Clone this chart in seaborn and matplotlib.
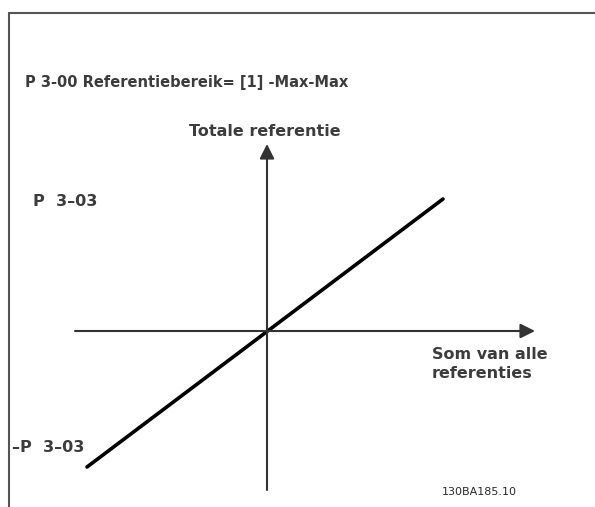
import numpy as np
import pandas as pd
import matplotlib
matplotlib.use('Agg')
import matplotlib.pyplot as plt
import seaborn as sns

sns.set_theme(style="white")
plt.rcParams['font.family'] = ['DejaVu Sans']

# referentielijn (origin = snijpunt van de assen)
line_x = [-180, 176]
line_y = [-136, 132]
df = pd.DataFrame({"som": line_x, "totaal": line_y})

title_txt = "P 3-00 Referentiebereik= [1] -Max-Max"
y_label = "Totale referentie"
x_label = "Som van alle\nreferenties"
max_label = "P  3\u201303"
min_label = "\u2013P  3\u201303"
code_label = "130BA185.10"

fig = plt.figure(figsize=(5.95, 5.07), dpi=100)
ax = fig.add_axes([0, 0, 1, 1])
ax.set_xlim(-267, 328)
ax.set_ylim(-176, 331)
ax.axis("off")

# kader
ax.plot([-258, 328], [318, 318], color="#555555", lw=1.5)
ax.plot([-258, -258], [318, -176], color="#555555", lw=1.5)

# assen met pijlen
ax.annotate("", xy=(268, 0), xytext=(-192, 0),
            arrowprops=dict(arrowstyle="-|>", color="#333333", lw=1.5,
                            mutation_scale=22, shrinkA=0, shrinkB=0))
ax.annotate("", xy=(0, 187), xytext=(0, -159),
            arrowprops=dict(arrowstyle="-|>", color="#333333", lw=1.5,
                            mutation_scale=22, shrinkA=0, shrinkB=0))

sns.lineplot(data=df, x="som", y="totaal", color="black", lw=2.6, ax=ax)
ax.axis("off")

txt = dict(fontweight="bold", color="#3c3c3c")
ax.text(-242, 248, title_txt, fontsize=10.5, va="center", **txt)
ax.text(-2, 200, y_label, fontsize=11.5, ha="center", va="center", **txt)
ax.text(-234, 130, max_label, fontsize=11.5, va="center", **txt)
ax.text(-255, -116, min_label, fontsize=11.5, va="center", **txt)
ax.text(165, -16, x_label, fontsize=11.5, va="top", linespacing=1.3, **txt)
ax.text(175, -161, code_label, fontsize=8, color="#2a2a2a", va="center")

fig.savefig("out.png", dpi=100)
